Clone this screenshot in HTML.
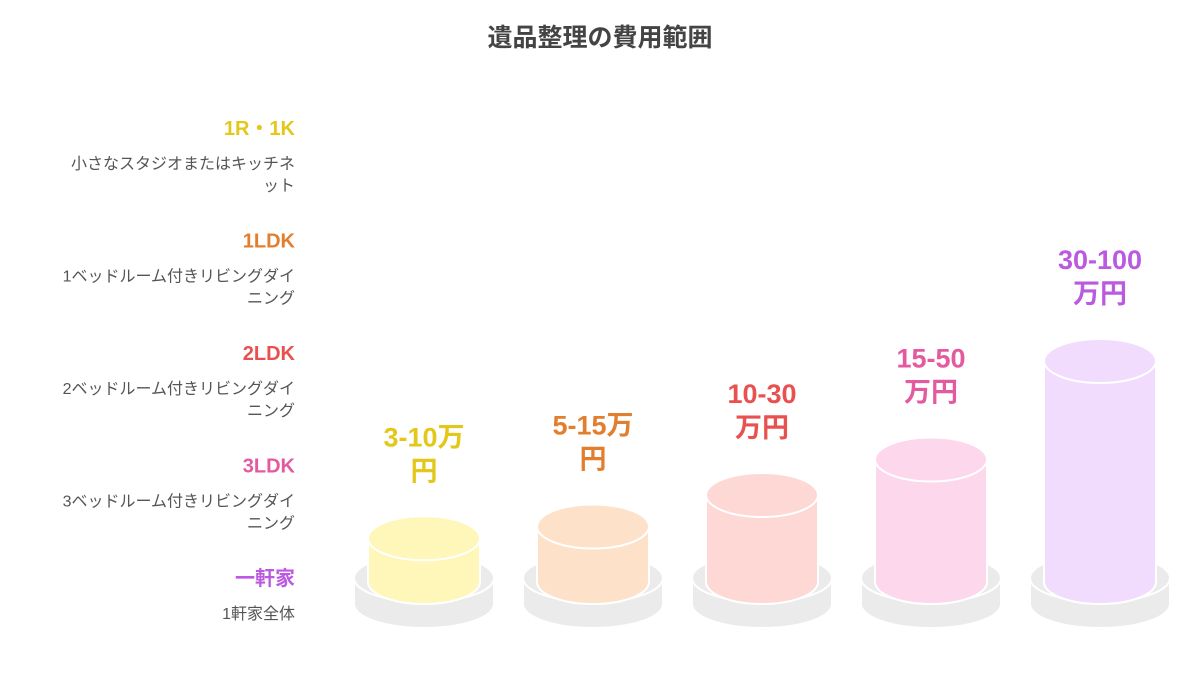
<!DOCTYPE html>
<html><head><meta charset="utf-8"><style>
body{margin:0;width:1200px;height:675px;background:#fff;overflow:hidden;font-family:"Liberation Sans","Noto Sans CJK JP",sans-serif}
svg text{font-family:"Liberation Sans","Noto Sans CJK JP",sans-serif}
</style></head><body>
<svg id="chart" width="1200" height="675">
<text x="600" y="46" text-anchor="middle" font-size="25" font-weight="bold" fill="#444">遺品整理の費用範囲</text>
<g id="legend"></g><g id="bars"></g>
</svg>
<script>
const categories=["1R・1K","1LDK","2LDK","3LDK","一軒家"];
const descriptions=[["小さなスタジオまたはキッチネ","ット"],["1ベッドルーム付きリビングダイ","ニング"],["2ベッドルーム付きリビングダイ","ニング"],["3ベッドルーム付きリビングダイ","ニング"],["1軒家全体"]];
const upperValues=[10,16,32,50,100];
const priceLabels=[["3-10万","円"],["5-15万","円"],["10-30","万円"],["15-50","万円"],["30-100","万円"]];
const fills=["#fef7b9","#fde1c9","#fdd8d5","#fdd7ec","#f1dcfd"];
const inks=["#e3c81a","#e27f2e","#e8514f","#e35a9f","#bb5ae0"];
const NS="http://www.w3.org/2000/svg";
function mk(t,a,p){const e=document.createElementNS(NS,t);for(const k in a)e.setAttribute(k,a[k]);p.appendChild(e);return e;}
const baseY=582;
function yScale(v){return baseY-(24+1.97*v);}
function xScale(i){return 424+i*169;}
const lg=document.getElementById('legend'),bg=document.getElementById('bars');
categories.forEach((c,i)=>{
  const y0=128+i*112.5;
  const h=mk('text',{x:295,y:y0+7,'text-anchor':'end','font-size':20,'font-weight':'bold',fill:inks[i]},lg);
  
  
  h.textContent=c;
  descriptions[i].forEach((d,j)=>{
    const t=mk('text',{x:295,y:y0+41+j*22,'text-anchor':'end','font-size':16,fill:'#555'},lg);
    
    
    t.textContent=d;
  });
  const cx=xScale(i),top=yScale(upperValues[i]),rx=56,ry=22;
  const g=mk('g',{},bg);
  
  
  mk('path',{d:`M${cx-70},${baseY-4} v26 a70,24 0 0 0 140,0 v-26 z`,fill:'#ebebeb',stroke:'#fff','stroke-width':2},g);
  mk('ellipse',{cx:cx,cy:baseY-4,rx:70,ry:24,fill:'#ebebeb',stroke:'#fff','stroke-width':2},g);
  mk('path',{d:`M${cx-rx},${top} V${baseY} a${rx},${ry} 0 0 0 ${2*rx},0 V${top} z`,fill:fills[i],stroke:'#fff','stroke-width':2},g);
  mk('ellipse',{cx:cx,cy:top,rx:rx,ry:ry,fill:fills[i],stroke:'#fff','stroke-width':2},g);
  priceLabels[i].forEach((l,j)=>{
    const t=mk('text',{x:cx,y:top-92+j*34,'text-anchor':'middle','font-size':27,'font-weight':'bold',fill:inks[i]},bg);
    
    
    t.textContent=l;
  });
});
</script>
</body></html>
